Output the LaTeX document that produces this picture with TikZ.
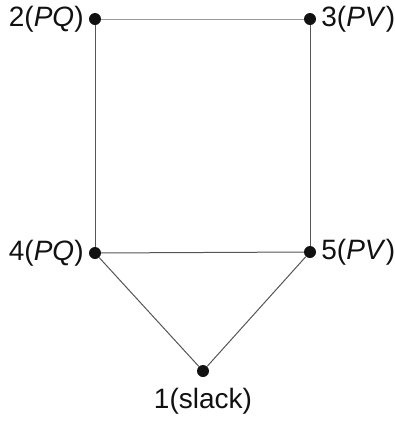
\documentclass[tikz,border=0pt]{standalone}
\usepackage{fontspec}
\setmainfont{Liberation Sans}
\usetikzlibrary{positioning}
\definecolor{Ink}{HTML}{111111}
\definecolor{Wire}{HTML}{555555}
\tikzset{
  bus/.style={
    circle, fill=Ink, minimum size=12pt, inner sep=0pt
  },
  buslabel/.style={
    inner sep=0pt, font=\fontsize{28}{32}\selectfont, text=Ink
  },
  line/.style={draw=Wire, line width=1pt}
}

\begin{document}
\begin{tikzpicture}[x=1pt,y=-1pt,node distance=5pt]
    \useasboundingbox (0,0) rectangle (395,421);
    \node[bus] (b2) at (95,19) {};
    \node[bus] (b3) at (310,19) {};
    \node[bus] (b4) at (95,253) {};
    \node[bus] (b5) at (310,252) {};
    \node[bus] (b1) at (203,371) {};
    \node[buslabel,left=of b2] (l2) {2(\textit{PQ})};
    \node[buslabel,right=of b3] (l3) {3(\textit{PV})};
    \node[buslabel,left=of b4] (l4) {4(\textit{PQ})};
    \node[buslabel,right=of b5] (l5) {5(\textit{PV})};
    \node[buslabel,below=11pt of b1] (l1) {1(slack)};
    \draw[line,draw=Wire!60] (b2)--(b3);
    \draw[line] (b2)--(b4);
    \draw[line] (b3)--(b5);
    \draw[line] (b4)--(b5);
    \draw[line] (b4)--(b1);
    \draw[line] (b5)--(b1);
  \end{tikzpicture}
\end{document}
